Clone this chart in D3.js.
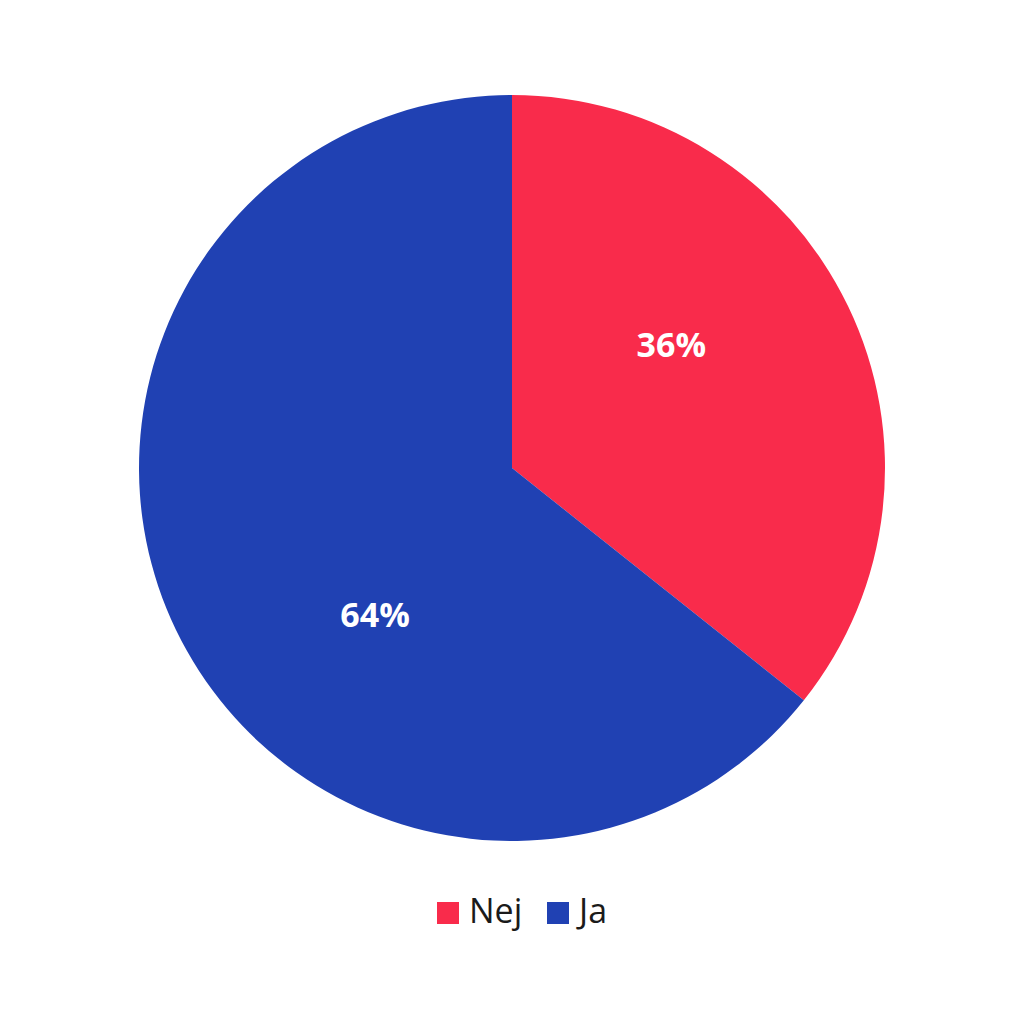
<!DOCTYPE html>
<html><head><meta charset="utf-8">
<script src="https://cdn.jsdelivr.net/npm/d3@7"></script>
<style>body{margin:0;background:#fff;} svg{display:block;}</style>
</head><body>
<svg id="chart" width="1024" height="1024"></svg>
<script>
const categories = ["Nej", "Ja"];
const values = [35.7, 64.3];
const colors = ["#F92B4B", "#2041B3"];

const svg = d3.select("#chart");
const cx = 512, cy = 468, R = 373;
const pie = d3.pie().sort(null).value(d => d.v);
const data = pie(categories.map((c, i) => ({c, v: values[i], col: colors[i]})));
const arc = d3.arc().innerRadius(0).outerRadius(R);
const g = svg.append("g").attr("transform", `translate(${cx},${cy})`);
g.selectAll("path").data(data).join("path")
  .attr("d", arc).attr("fill", d => d.data.col);
const labelR = 201, frac = 0.408;
g.selectAll("text").data(data).join("text")
  .attr("transform", d => {
    const a = d.startAngle + (d.endAngle - d.startAngle) * frac;
    return `translate(${labelR * Math.sin(a)},${-labelR * Math.cos(a)})`;
  })
  .attr("text-anchor", "middle").attr("dy", "0.35em")
  .attr("fill", "#fff").attr("font-family", "'Open Sans', sans-serif")
  .attr("font-weight", "bold").attr("font-size", 34)
  .text(d => Math.round(d.data.v) + "%");

const legend = svg.append("g").attr("font-family", "'Open Sans', sans-serif");
const lx = [437, 547];
categories.forEach((c, i) => {
  legend.append("rect").attr("x", lx[i]).attr("y", 902).attr("width", 22).attr("height", 22).attr("fill", colors[i]);
  legend.append("text").attr("x", lx[i] + 32).attr("y", 923).attr("font-size", 34).attr("fill", "#1a1a1a").text(c);
});
</script>
</body></html>
